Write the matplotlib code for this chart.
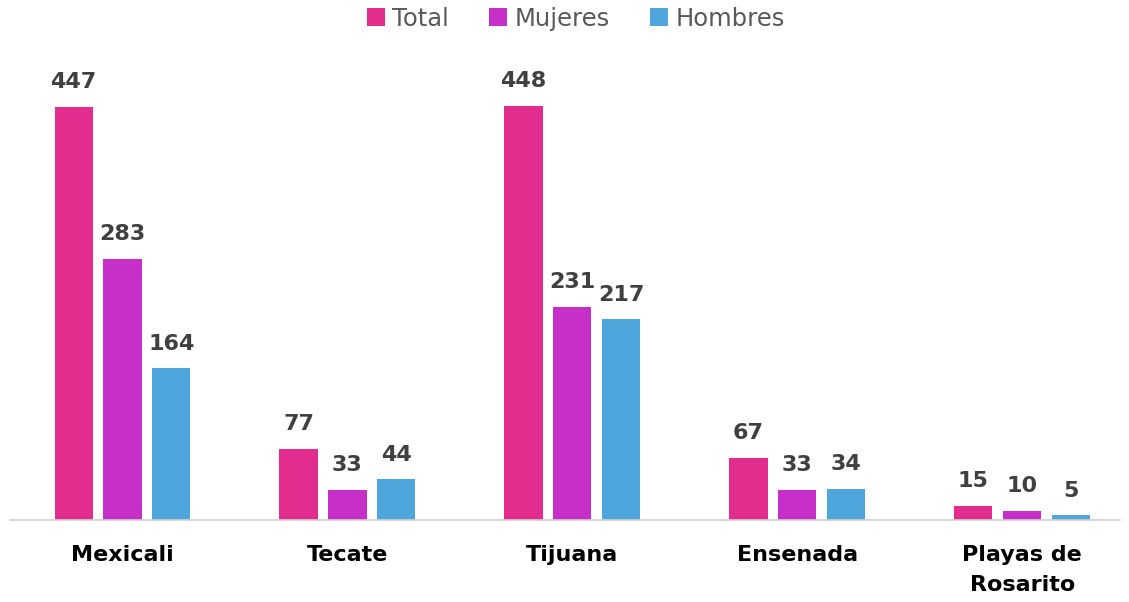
import numpy as np
import matplotlib
matplotlib.use("Agg")
import matplotlib.pyplot as plt

municipios = ["Mexicali", "Tecate", "Tijuana", "Ensenada", "Playas de\nRosarito"]
total = [447, 77, 448, 67, 15]
mujeres = [283, 33, 231, 33, 10]
hombres = [164, 44, 217, 34, 5]

series = [("Total", total, "#E32D8E"),
          ("Mujeres", mujeres, "#C72FC9"),
          ("Hombres", hombres, "#4EA6DC")]

fig = plt.figure(figsize=(11.29, 6.02), dpi=100)
ax = fig.add_axes([10 / 1129, 82 / 602, 1110 / 1129, 480 / 602])

x = np.arange(len(municipios))
width = 0.17
offset = 0.217

for i, (name, vals, color) in enumerate(series):
    pos = x + (i - 1) * offset
    bars = ax.bar(pos, vals, width=width, color=color, label=name, zorder=2)
    for b, v in zip(bars, vals):
        ax.text(b.get_x() + b.get_width() / 2, v + 16, str(v),
                ha="center", va="bottom", fontsize=16, fontweight="bold",
                color="#404040")

ax.set_xlim(-0.5, 4.435)
ax.set_ylim(0, 480 / 0.924)
ax.set_yticks([])
ax.set_xticks(x)
ax.set_xticklabels(municipios, fontsize=16, fontweight="bold", color="black",
                   linespacing=1.65)
ax.tick_params(axis="x", length=0, pad=18)
for s in ["top", "right", "left"]:
    ax.spines[s].set_visible(False)
ax.spines["bottom"].set_color("#d0d0d0")
ax.spines["bottom"].set_linewidth(1.2)

fig.legend(loc="upper center", bbox_to_anchor=(0.51, 1.025), ncol=3, frameon=False,
           fontsize=17.5, handlelength=0.75, handleheight=0.75, handletextpad=0.3,
           columnspacing=1.65, labelcolor="#595959")

plt.savefig("out.png", dpi=100, facecolor="white")
